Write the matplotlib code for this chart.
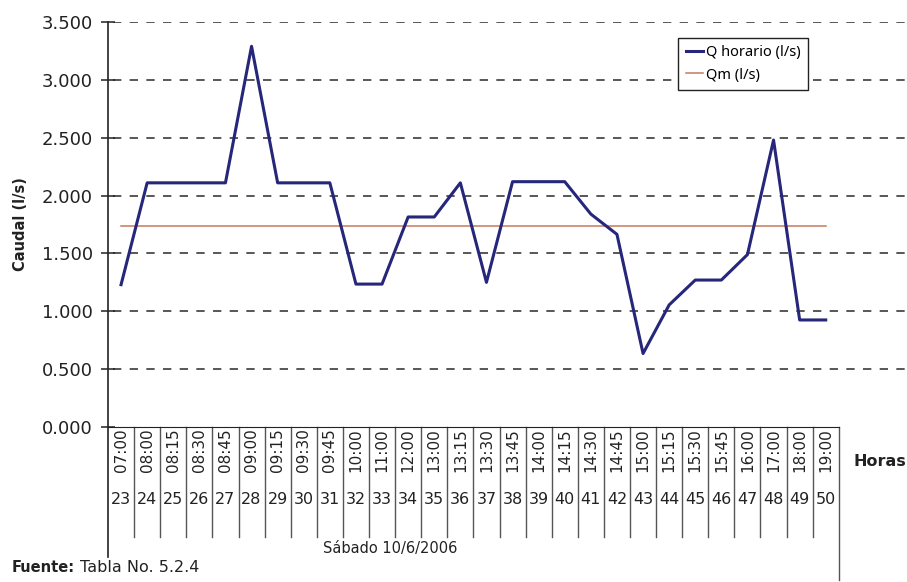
import numpy as np
import matplotlib.pyplot as plt
import matplotlib.transforms as mtransforms
from matplotlib.lines import Line2D

plt.rcParams['font.family'] = 'DejaVu Sans'
plt.rcParams['lines.scale_dashes'] = False

# datos
horas = ['07:00', '08:00', '08:15', '08:30', '08:45', '09:00', '09:15', '09:30',
         '09:45', '10:00', '11:00', '12:00', '13:00', '13:15', '13:30', '13:45',
         '14:00', '14:15', '14:30', '14:45', '15:00', '15:15', '15:30', '15:45',
         '16:00', '17:00', '18:00', '19:00']
numeros = ['23', '24', '25', '26', '27', '28', '29', '30', '31', '32', '33', '34',
           '35', '36', '37', '38', '39', '40', '41', '42', '43', '44', '45', '46',
           '47', '48', '49', '50']
q_horario = [1.23, 2.11, 2.11, 2.11, 2.11, 3.29, 2.11, 2.11, 2.11, 1.235, 1.235,
             1.815, 1.815, 2.11, 1.25, 2.12, 2.12, 2.12, 1.84, 1.665, 0.635, 1.055,
             1.27, 1.27, 1.49, 2.48, 0.925, 0.925]
qm = [1.74, 1.74, 1.74, 1.74, 1.74, 1.74, 1.74, 1.74, 1.74, 1.74, 1.74, 1.74, 1.74,
      1.74, 1.74, 1.74, 1.74, 1.74, 1.74, 1.74, 1.74, 1.74, 1.74, 1.74, 1.74, 1.74,
      1.74, 1.74]
yticks = [0.0, 0.5, 1.0, 1.5, 2.0, 2.5, 3.0, 3.5]

W, H = 907, 582
fig = plt.figure(figsize=(W / 100, H / 100), dpi=100)
ax = fig.add_axes([108 / W, 1 - 427 / H, (905 - 108) / W, (427 - 22) / H])
ax_h = 427 - 22  # alto del eje en px

x = np.arange(len(horas))
ax.set_xlim(-0.5, -0.5 + 797 / 26.1)
ax.set_ylim(0, 3.5)

# lineas de rejilla punteadas
for yv in yticks[1:]:
    ax.hlines(yv, -0.3, ax.get_xlim()[1], colors='#4a4a4a', linestyles=(0, (6, 6)),
              lw=1.3, zorder=1)

ax.plot(x, qm, color='#c47a5c', lw=1.1, zorder=2, label='Qm (l/s)')
ax.plot(x, q_horario, color='#26267a', lw=2.2, zorder=3, label='Q horario (l/s)')

for s in ['top', 'right']:
    ax.spines[s].set_visible(False)
ax.spines['bottom'].set_bounds(-0.5, len(horas) - 0.5)
ax.spines['left'].set_visible(False)
ax.spines['bottom'].set_color('#222222')

trans = mtransforms.blended_transform_factory(ax.transData, ax.transAxes)
# eje y largo
ax.plot([-0.5, -0.5], [1.0, -130 / ax_h], transform=trans, color='#222222', lw=1.2,
        clip_on=False)

ax.set_yticks(yticks)
ax.set_yticklabels(['%.3f' % v for v in yticks])
ax.tick_params(axis='y', direction='inout', length=10, width=1.1, labelsize=13,
               pad=6, colors='#222222')
ax.set_xticks([])

# tabla de horas debajo del eje
for i in range(len(horas)):
    ax.text(x[i], -23 / ax_h, horas[i], transform=trans, rotation=90, ha='center',
            va='center', fontsize=11, color='#222222')
    ax.text(x[i], -72 / ax_h, numeros[i], transform=trans, ha='center', va='center',
            fontsize=11.5, color='#222222')
for i in range(len(horas)):
    xb = i + 0.5
    low = -153 / ax_h if i == len(horas) - 1 else -110 / ax_h
    ax.plot([xb, xb], [0, low], transform=trans, color='#555555', lw=1.0,
            clip_on=False)

ax.set_ylabel('Caudal (l/s)', fontsize=10.5, fontweight='bold', labelpad=10,
              color='#222222')
fig.text(880 / W, 1 - 462 / H, 'Horas', fontsize=11.5, fontweight='bold',
         ha='center', va='center', color='#222222')
fig.text(12 / W, 1 - 568 / H, 'Fuente:', fontsize=10.5, fontweight='bold',
         ha='left', va='center', color='#222222')
fig.text(80 / W, 1 - 568 / H, 'Tabla No. 5.2.4', fontsize=11.5,
         ha='left', va='center', color='#222222')
fig.text(390 / W, 1 - 548 / H, 'Sábado 10/6/2006', fontsize=10.5, ha='center',
         va='center', color='#222222')

handles = [Line2D([], [], color='#26267a', lw=2.2),
           Line2D([], [], color='#c47a5c', lw=1.1)]
leg = fig.legend(handles, ['Q horario (l/s)', 'Qm (l/s)'], loc='upper right',
                 bbox_to_anchor=(808 / W, 1 - 38 / H),
                 prop={'family': 'Noto Sans', 'size': 10.5},
                 frameon=True, fancybox=False, edgecolor='#222222', framealpha=1,
                 handlelength=1.2, handletextpad=0.2, borderpad=0.5,
                 labelspacing=0.5, borderaxespad=0)
leg.get_frame().set_linewidth(1.0)

fig.savefig('out.png', dpi=100)
